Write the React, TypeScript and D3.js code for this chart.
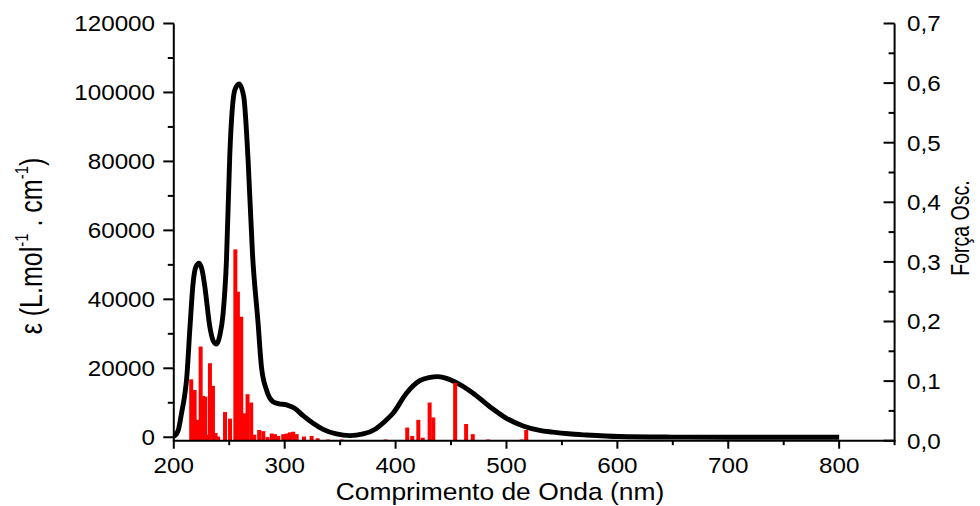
import React from 'react';
import * as d3 from 'd3';

// Simulated absorption spectrum
const curveNm = [200, 202, 204, 207, 209.5, 211.6, 214.6, 217.4, 220, 222.8, 225.5, 228, 232.5, 235.5, 238.5, 241.5, 244.5, 247.5, 250.5, 255, 258.9, 263.1, 267, 271, 276, 279, 283.6, 289.5, 295, 301.6, 309, 316.6, 325.6, 334.6, 346.7, 358.7, 370.7, 382, 390, 397.7, 409.8, 421.8, 430, 438.3, 446, 454.9, 469.9, 485, 500, 515, 530, 541.7, 556, 572, 602, 650, 700, 750, 800];
const curveEps = [300, 800, 2000, 7000, 11500, 17000, 32000, 44700, 49500, 50500, 48500, 43650, 32000, 28000, 27000, 29500, 36000, 51400, 82000, 100700, 102500, 98700, 80400, 53000, 33100, 20500, 13700, 10300, 9700, 9400, 8400, 6250, 4050, 2300, 950, 470, 950, 2400, 4500, 6960, 12760, 16400, 17300, 17570, 17100, 15830, 12760, 8870, 5500, 3280, 2000, 1500, 1000, 650, 200, 50, 0, 0, 0];

// Oscillator strengths
const barNm = [215.7, 218.8, 221.1, 224.2, 226.3, 228.4, 230.5, 232.6, 235.3, 237.6, 240, 246.2, 250.7, 255.5, 257.8, 260.8, 263.9, 266.5, 269.8, 272.6, 277, 280.7, 284.5, 288.3, 291.2, 294.2, 298.7, 301.8, 304.8, 307.7, 310.8, 317.4, 324.3, 329.7, 339, 351.4, 391, 410.5, 415, 420.5, 424.5, 430.7, 434, 453.7, 463.6, 469.6, 483.6, 513.7, 517.8];
const barF = [0.103, 0.085, 0.035, 0.158, 0.075, 0.074, 0.01, 0.13, 0.092, 0.013, 0.007, 0.048, 0.037, 0.321, 0.25, 0.208, 0.046, 0.078, 0.064, 0.01, 0.018, 0.016, 0.006, 0.012, 0.011, 0.008, 0.011, 0.012, 0.014, 0.015, 0.011, 0.007, 0.008, 0.004, 0.002, 0.002, 0.002, 0.022, 0.008, 0.035, 0.005, 0.064, 0.039, 0.097, 0.028, 0.011, 0.002, 0.002, 0.018];

const xTickValues = [200, 300, 400, 500, 600, 700, 800];
const xMinorValues = [250, 350, 450, 550, 650, 750, 850];
const leftTickValues = [0, 20000, 40000, 60000, 80000, 100000, 120000];
const leftMinorValues = [10000, 30000, 50000, 70000, 90000, 110000];
const rightTickValues = [0, 0.1, 0.2, 0.3, 0.4, 0.5, 0.6, 0.7];
const rightMinorValues = [0.05, 0.15, 0.25, 0.35, 0.45, 0.55, 0.65];

const xTitle = 'Comprimento de Onda (nm)';
const rightTitle = 'Força Osc.';

const FONT = "'Liberation Sans', Arial, sans-serif";
const SX = 1.1;

export default function App() {
  const x = d3.scaleLinear().domain([200, 850]).range([173.8, 894.6]);
  const yL = d3.scaleLinear().domain([-1000, 120000]).range([440.7, 23.5]);
  const yR = d3.scaleLinear().domain([0, 0.7]).range([440.7, 23.5]);

  const pts = curveNm.map((n, i) => [n, curveEps[i]] as [number, number]);
  const line = d3.line<[number, number]>()
    .x(d => x(d[0]))
    .y(d => yL(d[1]))
    .curve(d3.curveMonotoneX);

  const bars = barNm.map((n, i) => ({ n, f: barF[i] }));
  const y0 = yR(0);
  const axisStroke = 2;

  return (
    <svg width={980} height={506} style={{ position: 'absolute', left: 0, top: 0, background: '#fff' }}>
      <rect x={0} y={0} width={980} height={506} fill="#fff" />
      {/* spectrum */}
      <path d={line(pts) || ''} fill="none" stroke="#000" strokeWidth={4.9} strokeLinejoin="round" strokeLinecap="butt" />
      {/* oscillator bars */}
      {bars.map((b, i) => (
        <rect key={i} x={x(b.n) - 2} width={4} y={yR(b.f)} height={y0 - yR(b.f)} fill="#ff0000" />
      ))}

      {/* axes lines */}
      <line x1={x(200) - 1} x2={x(850) + 1} y1={y0} y2={y0} stroke="#000" strokeWidth={axisStroke} />
      <line x1={x(200)} x2={x(200)} y1={yL(120000)} y2={y0} stroke="#000" strokeWidth={axisStroke} />
      <line x1={x(850)} x2={x(850)} y1={yR(0.7)} y2={y0} stroke="#000" strokeWidth={axisStroke} />

      {/* bottom ticks */}
      {xTickValues.map(v => (
        <line key={'xt' + v} x1={x(v)} x2={x(v)} y1={y0} y2={y0 + 8} stroke="#000" strokeWidth={axisStroke} />
      ))}
      {xMinorValues.map(v => (
        <line key={'xm' + v} x1={x(v)} x2={x(v)} y1={y0} y2={y0 + 4.5} stroke="#000" strokeWidth={axisStroke} />
      ))}
      {xTickValues.map(v => (
        <g key={'xl' + v} transform={`translate(${x(v)},473) scale(${SX},1)`}>
          <text textAnchor="middle" fontFamily={FONT} fontSize={22} fill="#000">{v}</text>
        </g>
      ))}

      {/* left ticks */}
      {leftTickValues.map(v => (
        <line key={'lt' + v} x1={x(200) - 10.5} x2={x(200)} y1={yL(v)} y2={yL(v)} stroke="#000" strokeWidth={axisStroke} />
      ))}
      {leftMinorValues.map(v => (
        <line key={'lm' + v} x1={x(200) - 6} x2={x(200)} y1={yL(v)} y2={yL(v)} stroke="#000" strokeWidth={axisStroke} />
      ))}
      {leftTickValues.map(v => (
        <g key={'ll' + v} transform={`translate(155,${yL(v)}) scale(${SX},1)`}>
          <text textAnchor="end" dy="0.36em" fontFamily={FONT} fontSize={22} fill="#000">{v}</text>
        </g>
      ))}

      {/* right ticks (pointing inward) */}
      {rightTickValues.map(v => (
        <line key={'rt' + v} x1={x(850) - 11} x2={x(850)} y1={yR(v)} y2={yR(v)} stroke="#000" strokeWidth={axisStroke} />
      ))}
      {rightMinorValues.map(v => (
        <line key={'rm' + v} x1={x(850) - 6} x2={x(850)} y1={yR(v)} y2={yR(v)} stroke="#000" strokeWidth={axisStroke} />
      ))}
      {rightTickValues.map(v => (
        <g key={'rl' + v} transform={`translate(907,${yR(v)}) scale(${SX},1)`}>
          <text textAnchor="start" dy="0.36em" fontFamily={FONT} fontSize={22} fill="#000">{v.toFixed(1).replace('.', ',')}</text>
        </g>
      ))}

      {/* titles */}
      <g transform={`translate(500,500) scale(${SX},1)`}>
        <text textAnchor="middle" fontFamily={FONT} fontSize={24} fill="#000">{xTitle}</text>
      </g>
      <g transform={`translate(42,246) scale(1.25,1) rotate(-90)`}>
        <text textAnchor="middle" fontFamily={FONT} fontSize={25} fill="#000">
          <tspan>ε (L.mol</tspan>
          <tspan fontSize={15} dy={-11}>-1</tspan>
          <tspan dy={11}> . cm</tspan>
          <tspan fontSize={15} dy={-11}>-1</tspan>
          <tspan dy={11}>)</tspan>
        </text>
      </g>
      <g transform={`translate(969,228) scale(1.35,1) rotate(-90)`}>
        <text textAnchor="middle" fontFamily={FONT} fontSize={19.5} fill="#000">{rightTitle}</text>
      </g>
    </svg>
  );
}
